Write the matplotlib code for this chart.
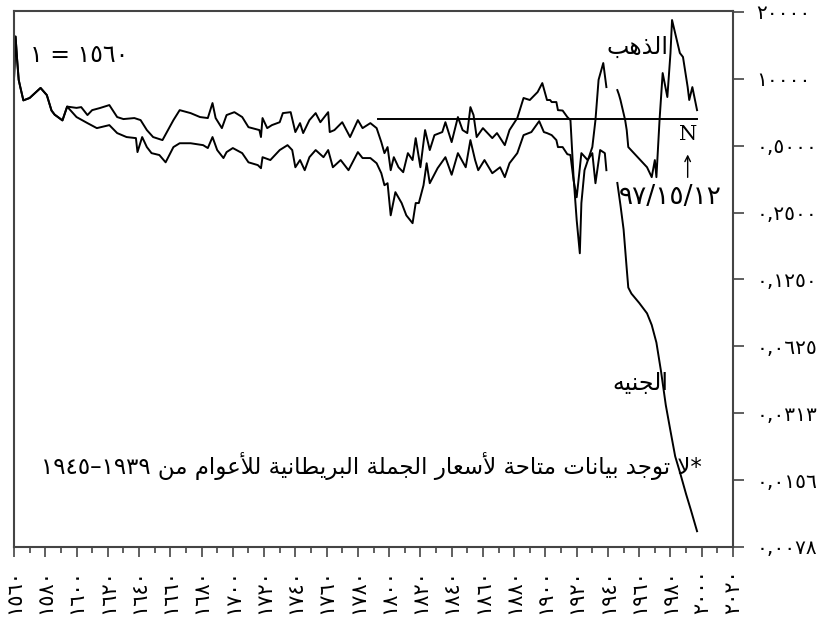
import re
import numpy as np
import matplotlib
matplotlib.use("Agg")
import matplotlib.pyplot as plt

# purchasing power index, 1560 = 1
gold_years = [1560, 1561, 1562, 1563, 1564, 1566, 1570, 1577, 1581, 1584, 1586, 1591, 1594,
              1600, 1603, 1607, 1610, 1615, 1621, 1626, 1630, 1637, 1641, 1645, 1649, 1655,
              1662, 1666, 1673, 1679, 1684, 1687, 1689, 1693, 1696, 1701, 1706, 1710, 1717,
              1718, 1719, 1722, 1725, 1730, 1732, 1737, 1740, 1743, 1745, 1749, 1753, 1756,
              1761, 1762, 1765, 1770, 1775, 1780, 1783, 1788, 1792, 1795, 1797, 1799, 1801,
              1803, 1806, 1809, 1812, 1815, 1817, 1820, 1823, 1826, 1829, 1834, 1836, 1840,
              1844, 1847, 1850, 1852, 1854, 1856, 1860, 1866, 1869, 1874, 1877, 1882, 1886,
              1890, 1895, 1898, 1901, 1903, 1904, 1907, 1908, 1911, 1914, 1916, 1918, 1920,
              1922, 1923, 1925, 1930, 1932, 1934, 1937, 1939, 1942, 1946, 1947, 1948, 1951,
              1952, 1953, 1959, 1965, 1968, 1970, 1971, 1973, 1975, 1978, 1980, 1981, 1984,
              1986, 1988, 1991, 1992, 1994, 1997]
gold_values = [1.00, 1.55, 1.22, 0.99, 0.92, 0.80, 0.82, 0.91, 0.845, 0.72, 0.69, 0.65, 0.75,
               0.74, 0.746, 0.687, 0.723, 0.739, 0.762, 0.673, 0.659, 0.666, 0.652, 0.588, 0.547, 0.53,
               0.652, 0.723, 0.701, 0.673, 0.666, 0.778, 0.666, 0.600, 0.687, 0.708, 0.673, 0.606, 0.588,
               0.547, 0.666, 0.600, 0.619, 0.638, 0.701, 0.708, 0.576, 0.632, 0.570, 0.652, 0.701, 0.638,
               0.708, 0.576, 0.588, 0.638, 0.547, 0.652, 0.600, 0.632, 0.600, 0.519, 0.463, 0.493, 0.388,
               0.444, 0.400, 0.380, 0.463, 0.431, 0.541, 0.400, 0.588, 0.478, 0.558, 0.576, 0.638, 0.519,
               0.673, 0.588, 0.570, 0.746, 0.687, 0.547, 0.600, 0.541, 0.570, 0.503, 0.588, 0.666, 0.820,
               0.803, 0.872, 0.957, 0.803, 0.803, 0.786, 0.786, 0.723, 0.720, 0.673, 0.652, 0.361, 0.231,
               0.164, 0.276, 0.388, 0.493, 0.652, 0.990, 1.178, 0.918, np.nan, 0.890, 0.850, 0.803, 0.652,
               0.588, 0.493, 0.444, 0.400, 0.361, 0.431, 0.361, 0.652, 1.062, 0.828, 1.307, 1.840, 1.496,
               1.307, 1.254, 0.918, 0.803, 0.918, 0.723]

pound_years = [1560, 1561, 1562, 1563, 1564, 1566, 1570, 1577, 1581, 1584, 1586, 1591, 1594,
               1600, 1607, 1613, 1621, 1626, 1632, 1638, 1639, 1642, 1645, 1648, 1653, 1657,
               1662, 1666, 1673, 1681, 1684, 1687, 1690, 1694, 1696, 1700, 1706, 1710, 1716,
               1718, 1719, 1724, 1730, 1735, 1738, 1740, 1743, 1746, 1749, 1753, 1758, 1761,
               1764, 1769, 1774, 1780, 1783, 1788, 1792, 1795, 1797, 1799, 1801, 1804, 1808,
               1811, 1815, 1817, 1819, 1822, 1824, 1826, 1831, 1836, 1840, 1844, 1849, 1852,
               1855, 1857, 1861, 1866, 1871, 1874, 1877, 1882, 1886, 1891, 1896, 1899, 1901,
               1904, 1907, 1908, 1911, 1914, 1916, 1918, 1920, 1923, 1927, 1930, 1932, 1935,
               1938, 1939, 1942, 1946, 1948, 1950, 1952, 1953, 1955, 1960, 1965, 1968, 1971,
               1974, 1977, 1980, 1983, 1986, 1990, 1993, 1997]
pound_values = [1.00, 1.55, 1.22, 0.99, 0.92, 0.80, 0.82, 0.91, 0.845, 0.72, 0.69, 0.65, 0.75,
                0.673, 0.632, 0.600, 0.619, 0.570, 0.547, 0.541, 0.468, 0.547, 0.493, 0.463, 0.454, 0.421,
                0.493, 0.513, 0.513, 0.503, 0.488, 0.547, 0.478, 0.440, 0.468, 0.488, 0.463, 0.421, 0.409,
                0.396, 0.444, 0.431, 0.478, 0.503, 0.478, 0.400, 0.431, 0.388, 0.444, 0.478, 0.444, 0.478,
                0.400, 0.431, 0.388, 0.468, 0.440, 0.440, 0.417, 0.376, 0.332, 0.339, 0.243, 0.309, 0.276,
                0.243, 0.224, 0.276, 0.276, 0.332, 0.417, 0.339, 0.396, 0.444, 0.370, 0.463, 0.400, 0.530,
                0.431, 0.388, 0.431, 0.376, 0.400, 0.361, 0.417, 0.463, 0.558, 0.576, 0.645, 0.576, 0.570,
                0.558, 0.530, 0.493, 0.493, 0.458, 0.454, 0.350, 0.293, 0.463, 0.431, 0.463, 0.339, 0.478,
                0.463, 0.388, np.nan, 0.340, 0.270, 0.210, 0.140, 0.115, 0.108, 0.098, 0.088, 0.078, 0.065,
                0.048, 0.034, 0.026, 0.020, 0.017, 0.0135, 0.0115, 0.0092]

norm_level = 0.66
norm_span = [1793, 1997]

y_ticks = [2, 1, 0.5, 0.25, 0.125, 0.0625, 0.03125, 0.015625, 0.0078125]
y_labels = ["٢٠٠٠٠", "١٠٠٠٠", "٠,٥٠٠٠", "٠,٢٥٠٠", "٠,١٢٥٠", "٠,٠٦٢٥", "٠,٠٣١٣", "٠,٠١٥٦", "٠,٠٠٧٨"]
x_ticks = list(range(1560, 2021, 20))

label_gold = "الذهب"
label_pound = "الجنيه"
label_base = "١ = ١٥٦٠"
label_date = "٩٧/١٥/١٢"
footnote = "*لا توجد بيانات متاحة لأسعار الجملة البريطانية للأعوام من ١٩٣٩–١٩٤٥"

# minimal arabic shaping (matplotlib does no joining / rtl)
FORMS = {
    '\u0627': ('\ufe8d', '\ufe8e', None, None),
    '\u0623': ('\ufe83', '\ufe84', None, None),
    '\u0628': ('\ufe8f', '\ufe90', '\ufe91', '\ufe92'),
    '\u0629': ('\ufe93', '\ufe94', None, None),
    '\u062a': ('\ufe95', '\ufe96', '\ufe97', '\ufe98'),
    '\u062c': ('\ufe9d', '\ufe9e', '\ufe9f', '\ufea0'),
    '\u062d': ('\ufea1', '\ufea2', '\ufea3', '\ufea4'),
    '\u062f': ('\ufea9', '\ufeaa', None, None),
    '\u0630': ('\ufeab', '\ufeac', None, None),
    '\u0631': ('\ufead', '\ufeae', None, None),
    '\u0633': ('\ufeb1', '\ufeb2', '\ufeb3', '\ufeb4'),
    '\u0637': ('\ufec1', '\ufec2', '\ufec3', '\ufec4'),
    '\u0639': ('\ufec9', '\ufeca', '\ufecb', '\ufecc'),
    '\u0644': ('\ufedd', '\ufede', '\ufedf', '\ufee0'),
    '\u0645': ('\ufee1', '\ufee2', '\ufee3', '\ufee4'),
    '\u0646': ('\ufee5', '\ufee6', '\ufee7', '\ufee8'),
    '\u0647': ('\ufee9', '\ufeea', '\ufeeb', '\ufeec'),
    '\u0648': ('\ufeed', '\ufeee', None, None),
    '\u064a': ('\ufef1', '\ufef2', '\ufef3', '\ufef4'),
}
LAM_ALEF = {'\u0627': ('\ufefb', '\ufefc'), '\u0623': ('\ufef7', '\ufef8')}


def ar(text):
    out = []
    i = 0
    prev_joins = False
    while i < len(text):
        c = text[i]
        if c == '\u0644' and i + 1 < len(text) and text[i + 1] in LAM_ALEF:
            iso, fin = LAM_ALEF[text[i + 1]]
            out.append(fin if prev_joins else iso)
            prev_joins = False
            i += 2
            continue
        if c in FORMS:
            iso, fin, ini, med = FORMS[c]
            nxt = text[i + 1] if i + 1 < len(text) else ''
            next_joins = ini is not None and nxt in FORMS
            if prev_joins and next_joins:
                g = med
            elif prev_joins:
                g = fin
            elif next_joins:
                g = ini
            else:
                g = iso
            out.append(g)
            prev_joins = ini is not None
        else:
            out.append(c)
            prev_joins = False
        i += 1
    vis = ''.join(reversed(out))
    # digit runs stay left to right
    return re.sub('[\u0660-\u0669]+', lambda m: m.group(0)[::-1], vis)


def ar_digits(n):
    return str(n).translate(str.maketrans("0123456789", "٠١٢٣٤٥٦٧٨٩"))


plt.rcParams['font.family'] = ['DejaVu Sans']
fig = plt.figure(figsize=(8.32, 6.21), dpi=100)
ax = fig.add_axes([14 / 832, 1 - 547 / 621, 719 / 832, 536 / 621])

ax.plot(gold_years, gold_values, color='black', lw=1.4)
ax.plot(pound_years, pound_values, color='black', lw=1.4)
ax.plot(norm_span, [norm_level, norm_level], color='black', lw=1.4)

ax.set_yscale('log')
ax.set_xlim(1560, 2020)
ax.set_ylim(0.0078125, 2.02)

ax.yaxis.tick_right()
ax.set_yticks(y_ticks)
ax.set_yticklabels(y_labels)
ax.yaxis.set_minor_locator(matplotlib.ticker.NullLocator())
ax.tick_params(axis='y', which='major', length=8, width=1.2, pad=9, labelsize=14.5, color='#444')

ax.set_xticks(x_ticks)
ax.set_xticklabels([ar_digits(y) for y in x_ticks], rotation=90)
ax.set_xticks(list(range(1570, 2020, 20)), minor=True)
ax.tick_params(axis='x', which='major', length=7, width=1.2, pad=9, labelsize=15, color='#444')
ax.tick_params(axis='x', which='minor', length=4, width=1.2, color='#444')

for s in ax.spines.values():
    s.set_color('#444')
    s.set_linewidth(1.5)

ax.text(1602, 1.28, label_base, fontsize=17, ha='center', va='center')
ax.text(1958.6, 1.39, ar(label_gold), fontsize=17, ha='center', va='center')
ax.text(1991, 0.563, "N", fontsize=15, ha='center', va='center', family='DejaVu Serif')
ax.annotate("", xy=(1991, 0.47), xytext=(1991, 0.35),
            arrowprops=dict(arrowstyle='->', lw=1.0, color='black'))
ax.text(1979.7, 0.293, label_date, fontsize=19, ha='center', va='center')
ax.text(1960.5, 0.0426, ar(label_pound), fontsize=17, ha='center', va='center')
ax.text(1788.4, 0.018, ar(footnote), fontsize=16.5, ha='center', va='center')

fig.savefig("out.png", dpi=100)
